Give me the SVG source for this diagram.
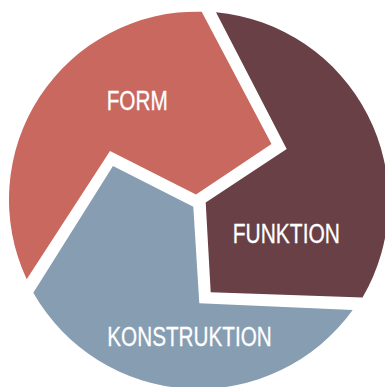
<svg xmlns="http://www.w3.org/2000/svg" width="385" height="387" viewBox="0 0 385 387">
<style>
.lbl{font-family:"Liberation Sans","Arial",sans-serif;font-size:27px;fill:#ffffff;stroke:#ffffff;stroke-width:0.3px;}
</style>
<rect width="385" height="387" fill="#ffffff"/>
<g id="form">
<path d="M201.7,11.7 A188,188 0 0 0 26.7,279.3 L110,151 L196,194.5 L271.5,144 Z" fill="#C9685F"/>
<text class="lbl" x="106.7" y="110" textLength="61" lengthAdjust="spacingAndGlyphs">FORM</text>
</g>
<g id="funktion">
<path d="M216,12.3 A190,190 0 0 1 362.5,297.5 L210.7,292.3 L205.7,202.5 L286.7,149 Z" fill="#6A4047"/>
<text class="lbl" x="232.7" y="242.7" textLength="107.3" lengthAdjust="spacingAndGlyphs">FUNKTION</text>
</g>
<g id="konstruktion">
<path d="M113,166 L193.3,206.7 L199.3,303.3 L352.7,310 A190,190 0 0 1 33.3,292.7 Z" fill="#869DB2"/>
<text class="lbl" x="107.3" y="346" textLength="164.4" lengthAdjust="spacingAndGlyphs">KONSTRUKTION</text>
</g>
<g id="connectors"></g>
</svg>
